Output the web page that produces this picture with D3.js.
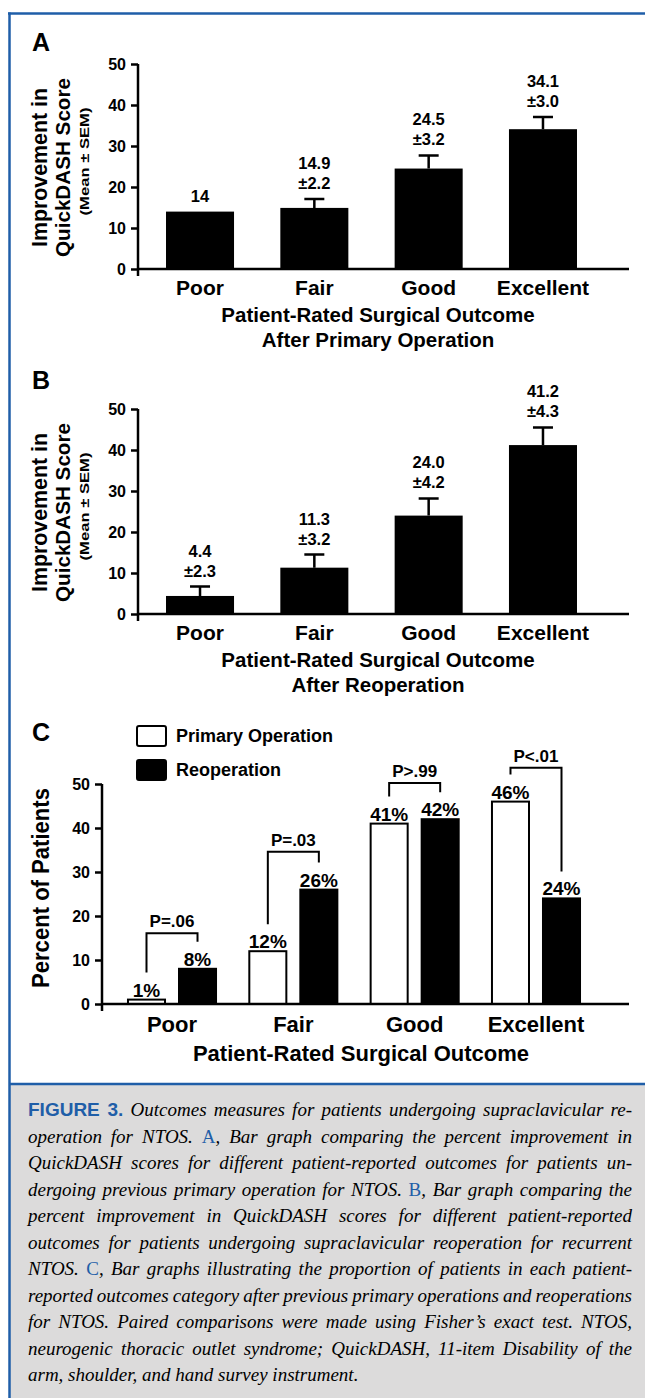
<!DOCTYPE html>
<html>
<head>
<meta charset="utf-8">
<script src="https://cdn.jsdelivr.net/npm/d3@7"></script>
<style>
body { margin: 0; background: #fff; }
svg { display: block; }
text { font-family: "Liberation Sans", Arial, sans-serif; font-weight: bold; fill: #000; }
.caption text { font-family: "Liberation Serif", "DejaVu Serif", "Times New Roman", serif; font-weight: normal; font-size: 19px; }
.caption .it { font-style: italic; }
.caption .fig { font-family: "Liberation Sans", Arial, sans-serif; font-weight: bold; }
</style>
</head>
<body>
<svg id="fig" width="645" height="1398"></svg>
<script>
var width = 645;
var height = 1398;
var blue = "#1f5ea8";

var categories = ["Poor", "Fair", "Good", "Excellent"];
// A: improvement in QuickDASH after primary operation (mean, SEM)
var primaryMean = [14, 14.9, 24.5, 34.1];
var primarySem = [null, 2.2, 3.2, 3.0];
// B: improvement after reoperation
var reopMean = [4.4, 11.3, 24.0, 41.2];
var reopSem = [2.3, 3.2, 4.2, 4.3];
// C: percent of patients per outcome
var seriesNames = ["Primary Operation", "Reoperation"];
var primaryPct = [1, 12, 41, 46];
var reopPct = [8, 26, 42, 24];
var pValues = ["P=.06", "P=.03", "P>.99", "P<.01"];
var bracketAt = [16.1, 34.6, 50.2, 53.7];
var yTicks = [0, 10, 20, 30, 40, 50];

var captionLines = [
  "{FIGURE 3.} Outcomes measures for patients undergoing supraclavicular re-",
  "operation for NTOS. {A}, Bar graph comparing the percent improvement in",
  "QuickDASH scores for different patient-reported outcomes for patients un-",
  "dergoing previous primary operation for NTOS. {B}, Bar graph comparing the",
  "percent improvement in QuickDASH scores for different patient-reported",
  "outcomes for patients undergoing supraclavicular reoperation for recurrent",
  "NTOS. {C}, Bar graphs illustrating the proportion of patients in each patient-",
  "reported outcomes category after previous primary operations and reoperations",
  "for NTOS. Paired comparisons were made using Fisher\u2019s exact test. NTOS,",
  "neurogenic thoracic outlet syndrome; QuickDASH, 11-item Disability of the",
  "arm, shoulder, and hand survey instrument."
];

var svg = d3.select("#fig");

// frame + caption box
svg.append("rect").attr("x", 10).attr("y", 1084).attr("width", width - 10).attr("height", height - 1084)
  .attr("fill", "#dcdbdb");
svg.append("line").attr("x1", 8).attr("x2", width).attr("y1", 13.5).attr("y2", 13.5)
  .attr("stroke", blue).attr("stroke-width", 2.5);
svg.append("line").attr("x1", 9.5).attr("x2", 9.5).attr("y1", 12.5).attr("y2", height)
  .attr("stroke", blue).attr("stroke-width", 2.5);
svg.append("line").attr("x1", 9).attr("x2", width).attr("y1", 1084).attr("y2", 1084)
  .attr("stroke", blue).attr("stroke-width", 2.5);

function styleAxis(ax, size) {
  ax.attr("font-size", size).attr("font-family", null);
  ax.selectAll("line").attr("stroke", "#000").attr("stroke-width", 2.5);
  ax.selectAll("text").attr("fill", "#000");
}

// rotated axis title squeezed to the length seen in the figure
function vTitle(g, x, y, size, len, txt) {
  g.append("text").attr("transform", "translate(" + x + "," + y + ") rotate(-90)")
    .attr("text-anchor", "middle").attr("font-size", size)
    .attr("textLength", len).attr("lengthAdjust", "spacingAndGlyphs")
    .text(txt);
}

function meanPanel(opt) {
  var g = svg.append("g");
  var y = d3.scaleLinear().domain([0, 50]).range([opt.y0, opt.y0 - 205]);
  var x = d3.scaleBand().domain(categories).range([138, 605])
    .paddingInner(0.405).paddingOuter(0.245);

  g.append("text").attr("x", 32).attr("y", opt.letterY).attr("font-size", 25).text(opt.letter);

  var yAxis = g.append("g").attr("transform", "translate(138,0)")
    .call(d3.axisLeft(y).tickValues(yTicks).tickSize(7).tickPadding(5));
  yAxis.select(".domain").remove();
  styleAxis(yAxis, 16);

  g.append("line").attr("x1", 138).attr("x2", 138).attr("y1", y(50)).attr("y2", y(0) + 7)
    .attr("stroke", "#000").attr("stroke-width", 2.5);
  g.append("line").attr("x1", 138).attr("x2", 629).attr("y1", y(0)).attr("y2", y(0))
    .attr("stroke", "#000").attr("stroke-width", 2.5);

  var rows = categories.map(function(c, i) { return {cat: c, v: opt.mean[i], e: opt.sem[i]}; });

  g.selectAll("rect.bar").data(rows).enter().append("rect")
    .attr("class", "bar")
    .attr("x", function(d) { return x(d.cat); })
    .attr("width", x.bandwidth())
    .attr("y", function(d) { return y(d.v); })
    .attr("height", function(d) { return y(0) - y(d.v); })
    .attr("fill", "#000");

  var err = rows.filter(function(d) { return d.e != null; });
  g.selectAll("path.err").data(err).enter().append("path")
    .attr("class", "err")
    .attr("d", function(d) {
      var cx = x(d.cat) + x.bandwidth() / 2;
      return "M" + cx + "," + y(d.v) + "V" + y(d.v + d.e) + "M" + (cx - 10) + "," + y(d.v + d.e) + "H" + (cx + 10);
    })
    .attr("fill", "none").attr("stroke", "#000").attr("stroke-width", 2.5);

  var lab = g.selectAll("text.val").data(rows).enter().append("text")
    .attr("class", "val")
    .attr("text-anchor", "middle")
    .attr("font-size", 16.5)
    .attr("x", function(d) { return x(d.cat) + x.bandwidth() / 2; })
    .attr("y", function(d) { return y(d.v + (d.e || 0)) - 10; });
  lab.each(function(d) {
    var t = d3.select(this);
    if (d.e == null) { t.text(d.v); return; }
    t.append("tspan").attr("x", t.attr("x")).attr("dy", -20).text(d.v.toFixed(1));
    t.append("tspan").attr("x", t.attr("x")).attr("dy", 20).text("\u00b1" + d.e.toFixed(1));
  });

  var xAxis = g.append("g").attr("transform", "translate(0," + y(0) + ")")
    .call(d3.axisBottom(x).tickSize(0).tickPadding(11));
  xAxis.select(".domain").remove();
  styleAxis(xAxis, 21);

  g.append("text").attr("x", 378).attr("y", y(0) + 53).attr("text-anchor", "middle")
    .attr("font-size", 20.5).text("Patient-Rated Surgical Outcome");
  g.append("text").attr("x", 378).attr("y", y(0) + 78).attr("text-anchor", "middle")
    .attr("font-size", 20.5).text(opt.subtitle);

  var yc = y(25) + 1;
  vTitle(g, 47, yc, 21.5, 159, "Improvement in");
  vTitle(g, 70, yc, 21, 179, "QuickDASH Score");
  vTitle(g, 89, yc - 6, 13.5, 108, "(Mean \u00b1 SEM)");
}

meanPanel({letter: "A", letterY: 51, y0: 269, mean: primaryMean, sem: primarySem,
  subtitle: "After Primary Operation"});
meanPanel({letter: "B", letterY: 389, y0: 614, mean: reopMean, sem: reopSem,
  subtitle: "After Reoperation"});

// panel C: grouped bars
(function() {
  var g = svg.append("g");
  var y = d3.scaleLinear().domain([0, 50]).range([1004, 784]);
  var x0 = d3.scaleBand().domain(categories).range([102, 606]).paddingInner(0).paddingOuter(0.077);
  var x1 = d3.scaleBand().domain([0, 1]).range([0, x0.bandwidth()]).paddingInner(0.235).paddingOuter(0.3066);
  var fills = ["#fff", "#000"];

  g.append("text").attr("x", 32).attr("y", 741).attr("font-size", 25).text("C");

  // legend
  var leg = g.selectAll("g.leg").data(seriesNames).enter().append("g")
    .attr("class", "leg")
    .attr("transform", function(d, i) { return "translate(136," + (725 + i * 34) + ")"; });
  leg.append("rect").attr("x", 1).attr("y", 1).attr("width", 29).attr("height", 20).attr("rx", 2)
    .attr("fill", function(d, i) { return fills[i]; })
    .attr("stroke", "#000").attr("stroke-width", 2);
  leg.append("text").attr("x", 40).attr("y", 17).attr("font-size", 18).text(function(d) { return d; });

  var yAxis = g.append("g").attr("transform", "translate(102,0)")
    .call(d3.axisLeft(y).tickValues(yTicks).tickSize(7).tickPadding(5));
  yAxis.select(".domain").remove();
  styleAxis(yAxis, 16);
  g.append("line").attr("x1", 102).attr("x2", 102).attr("y1", y(50)).attr("y2", y(0) + 7)
    .attr("stroke", "#000").attr("stroke-width", 2.5);

  var bars = [];
  categories.forEach(function(c, i) {
    bars.push({cat: c, s: 0, v: primaryPct[i]});
    bars.push({cat: c, s: 1, v: reopPct[i]});
  });
  function cx(d) { return x0(d.cat) + x1(d.s) + x1.bandwidth() / 2; }

  g.selectAll("rect.bar").data(bars).enter().append("rect")
    .attr("class", "bar")
    .attr("x", function(d) { return x0(d.cat) + x1(d.s) + 1; })
    .attr("width", x1.bandwidth() - 2)
    .attr("y", function(d) { return y(d.v); })
    .attr("height", function(d) { return y(0) - y(d.v); })
    .attr("fill", function(d) { return fills[d.s]; })
    .attr("stroke", "#000").attr("stroke-width", 2);

  g.append("line").attr("x1", 102).attr("x2", 629).attr("y1", y(0)).attr("y2", y(0))
    .attr("stroke", "#000").attr("stroke-width", 2.5);

  g.selectAll("text.val").data(bars).enter().append("text")
    .attr("class", "val").attr("text-anchor", "middle").attr("font-size", 19)
    .attr("x", cx)
    .attr("y", function(d) { return y(d.v) - 3; })
    .text(function(d) { return d.v + "%"; });

  // significance brackets
  var br = categories.map(function(c, i) {
    return {a: {cat: c, s: 0, v: primaryPct[i]}, b: {cat: c, s: 1, v: reopPct[i]}, lvl: bracketAt[i], p: pValues[i]};
  });
  g.selectAll("path.br").data(br).enter().append("path")
    .attr("class", "br")
    .attr("d", function(d) {
      return "M" + cx(d.a) + "," + (y(d.a.v) - 27) + "V" + y(d.lvl) + "H" + cx(d.b) + "V" + (y(d.b.v) - 27);
    })
    .attr("fill", "none").attr("stroke", "#000").attr("stroke-width", 2);
  g.selectAll("text.p").data(br).enter().append("text")
    .attr("class", "p").attr("text-anchor", "middle").attr("font-size", 17)
    .attr("x", function(d) { return (cx(d.a) + cx(d.b)) / 2; })
    .attr("y", function(d) { return y(d.lvl) - 6; })
    .text(function(d) { return d.p; });

  var xAxis = g.append("g").attr("transform", "translate(0," + y(0) + ")")
    .call(d3.axisBottom(x0).tickSize(0).tickPadding(12));
  xAxis.select(".domain").remove();
  styleAxis(xAxis, 22);

  g.append("text").attr("x", 361).attr("y", 1061).attr("text-anchor", "middle")
    .attr("font-size", 22).text("Patient-Rated Surgical Outcome");
  vTitle(g, 49, y(25) - 6, 23, 200, "Percent of Patients");
})();

// caption, justified line by line
var cap = svg.append("g").attr("class", "caption");
captionLines.forEach(function(line, i) {
  var t = cap.append("text").attr("x", 28).attr("y", 1116 + i * 26.5);
  line.split(/(\{[^}]*\})/).forEach(function(part) {
    if (!part) return;
    var ts = t.append("tspan");
    if (part[0] == "{") {
      var s = part.slice(1, -1);
      ts.text(s).attr("fill", blue).attr("class", s.length > 1 ? "fig" : "pan");
    } else {
      ts.text(part).attr("class", "it");
    }
  });
  if (i < captionLines.length - 1) {
    var w = t.node().getComputedTextLength();
    var spaces = (line.match(/ /g) || []).length;
    t.style("word-spacing", ((604 - w) / spaces) + "px");
  }
});
</script>
</body>
</html>
